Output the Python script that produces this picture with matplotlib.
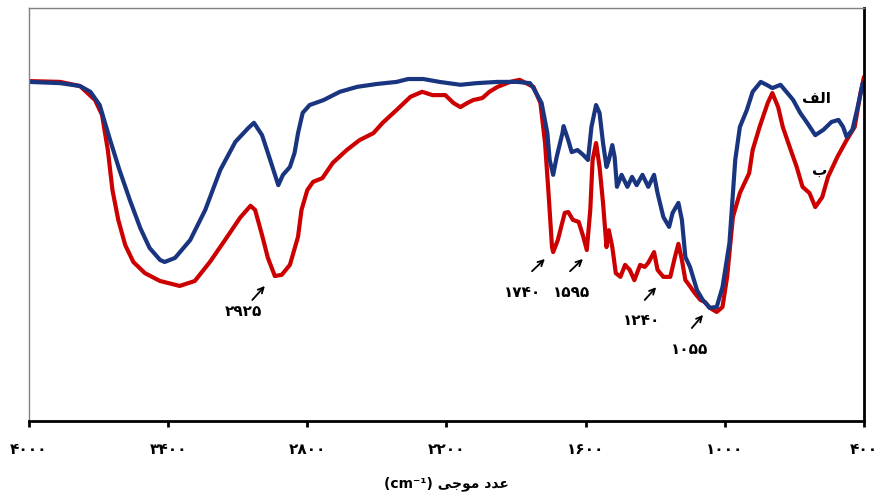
import matplotlib
matplotlib.use('Agg')
import matplotlib.pyplot as plt

# wavenumber (cm-1) and transmittance (arbitrary %)
wn_a = [4000, 3865, 3780, 3735, 3695, 3650, 3610, 3565, 3520, 3480, 3435, 3415, 3370, 3305,
        3240, 3175, 3110, 3055, 3030, 2995, 2960, 2925, 2905, 2875, 2855, 2840, 2820, 2790,
        2730, 2660, 2585, 2500, 2415, 2365, 2300, 2230, 2140, 2070, 1980, 1895, 1840, 1825,
        1790, 1765, 1755, 1740, 1725, 1700, 1695, 1675, 1660, 1635, 1610, 1590, 1575, 1555,
        1540, 1525, 1510, 1500, 1485, 1475, 1465, 1445, 1420, 1400, 1380, 1355, 1330, 1305,
        1290, 1265, 1240, 1225, 1200, 1185, 1170, 1150, 1120, 1095, 1065, 1035, 1010, 980,
        955, 935, 905, 880, 845, 820, 795, 760, 730, 705, 675, 645, 610, 575, 540, 510, 490,
        475, 450, 430, 405]
t_a = [82.1, 81.8, 81.1, 79.7, 76.5, 68.0, 60.8, 53.5, 46.7, 41.9, 39.0, 38.5, 39.5, 43.8,
       51.1, 60.8, 67.6, 70.9, 72.2, 69.2, 63.2, 57.1, 59.6, 61.5, 64.9, 69.7, 74.6, 76.5,
       77.7, 79.7, 80.9, 81.6, 82.1, 82.8, 82.8, 82.1, 81.4, 81.8, 82.1, 82.1, 81.8, 80.6,
       77.0, 69.7, 63.2, 59.6, 63.9, 69.7, 71.4, 68.0, 65.1, 65.6, 64.4, 63.2, 71.2, 76.5,
       74.6, 67.3, 61.5, 63.2, 66.8, 63.9, 56.7, 59.6, 56.7, 59.1, 57.1, 59.6, 56.7, 59.6,
       55.2, 49.4, 47.0, 50.4, 52.8, 48.7, 39.7, 37.3, 31.7, 29.3, 27.4, 27.6, 32.4, 43.1,
       63.2, 71.2, 75.3, 79.7, 82.1, 81.4, 80.6, 81.4, 79.4, 77.7, 74.6, 72.2, 69.2, 70.5,
       72.4, 72.9, 71.2, 68.8, 70.5, 75.3, 81.8]

wn_b = [4000, 3865, 3780, 3715, 3685, 3660, 3640, 3615, 3585, 3550, 3500, 3435, 3350, 3285,
        3220, 3155, 3090, 3045, 3025, 2995, 2970, 2940, 2910, 2875, 2840, 2825, 2800, 2775,
        2735, 2690, 2630, 2575, 2515, 2475, 2415, 2355, 2305, 2260, 2205, 2170, 2140, 2110,
        2085, 2045, 2015, 1980, 1925, 1885, 1825, 1795, 1775, 1760, 1745, 1740, 1720, 1690,
        1675, 1655, 1630, 1610, 1595, 1580, 1570, 1555, 1540, 1525, 1510, 1500, 1485, 1470,
        1450, 1430, 1410, 1390, 1365, 1345, 1330, 1305, 1290, 1265, 1235, 1215, 1200, 1185,
        1170, 1160, 1130, 1105, 1085, 1065, 1035, 1010, 990, 965, 935, 915, 895, 880, 850,
        815, 795, 770, 750, 720, 690, 665, 635, 610, 580, 555, 515, 475, 440, 415, 400]
t_b = [82.3, 82.1, 81.1, 77.7, 74.1, 65.6, 55.9, 48.7, 42.6, 38.5, 35.8, 33.9, 32.7, 33.9,
       38.5, 43.8, 49.2, 52.1, 51.1, 45.0, 39.5, 35.1, 35.4, 37.8, 44.6, 51.1, 55.9, 57.9,
       58.8, 62.5, 65.6, 68.0, 69.7, 72.2, 75.3, 78.5, 79.7, 78.9, 78.9, 77.0, 76.0, 77.0,
       77.7, 78.2, 79.7, 80.9, 82.1, 82.6, 80.9, 77.0, 67.3, 55.2, 42.1, 40.9, 43.8, 50.4,
       50.6, 48.7, 48.2, 44.6, 41.4, 51.1, 63.2, 67.3, 61.5, 52.8, 42.1, 46.2, 42.1, 35.8,
       34.9, 37.8, 36.6, 34.1, 37.8, 37.3, 38.3, 40.9, 36.6, 34.9, 34.9, 39.7, 42.9, 39.0,
       34.1, 33.4, 31.0, 29.3, 28.8, 27.4, 26.4, 27.6, 34.9, 49.4, 55.2, 57.6, 60.0, 65.6,
       71.2, 77.0, 79.4, 76.0, 71.2, 66.3, 61.5, 56.7, 55.2, 51.8, 54.2, 59.1, 63.9, 68.0,
       71.2, 79.4, 83.3]

ticks = [4000, 3400, 2800, 2200, 1600, 1000, 400]
peaks = [2925, 1740, 1595, 1240, 1055]

FA = str.maketrans('0123456789', '۰۱۲۳۴۵۶۷۸۹')

def fa(n):
    return str(n).translate(FA)

fig = plt.figure(figsize=(8.75, 4.98), dpi=100, facecolor='white')
ax = fig.add_axes([0.0331, 0.1546, 0.9543, 0.8294])

ax.plot(wn_b, t_b, color='#cc0000', linewidth=3.0, solid_capstyle='round', solid_joinstyle='round')
ax.plot(wn_a, t_a, color='#1a3580', linewidth=3.0, solid_capstyle='round', solid_joinstyle='round')

ax.set_xlim(4000, 400)
ax.set_ylim(0, 100)
ax.set_yticks([])
ax.set_xticks(ticks)
ax.set_xticklabels([fa(t) for t in ticks], fontsize=11, fontweight='bold')
ax.tick_params(axis='x', direction='out', length=4, width=2, pad=11, colors='black')

for side in ['left', 'top']:
    ax.spines[side].set_color('#808080')
    ax.spines[side].set_linewidth(1)
for side in ['bottom', 'right']:
    ax.spines[side].set_color('black')
    ax.spines[side].set_linewidth(2)

# arrow tip, arrow tail, label position (data coords)
arrows = [((2975, 33.2), (3045, 28.8), (3075, 26.4)),
          ((1767, 39.7), (1840, 35.8), (1870, 31.2)),
          ((1603, 39.7), (1676, 35.8), (1659, 31.2)),
          ((1288, 32.9), (1353, 28.8), (1357, 24.4)),
          ((1086, 26.2), (1150, 22.0), (1150, 17.2))]
for p, (tip, tail, lab) in zip(peaks, arrows):
    ax.annotate('', xy=tip, xytext=tail,
                arrowprops=dict(arrowstyle='->', color='black', lw=1.3))
    ax.text(lab[0], lab[1], fa(p), ha='center', va='center',
            fontsize=11, fontweight='bold')

# curve labels (presentation forms, visual order)
ax.text(603, 78.2, '\uFED2\uFEDF\uFE8D', ha='center', va='center',
        fontsize=11, fontweight='bold')
ax.text(590, 60.8, '\uFE8F', ha='center', va='center',
        fontsize=11, fontweight='bold')

ax.set_xlabel('(cm\u207b\u00b9) \uFBFD\uFE9F\uFEEE\uFEE3 \uFEA9\uFEAA\uFECB',
              fontsize=10, fontweight='bold', labelpad=14)

plt.savefig('out.png', dpi=100, facecolor='white')
